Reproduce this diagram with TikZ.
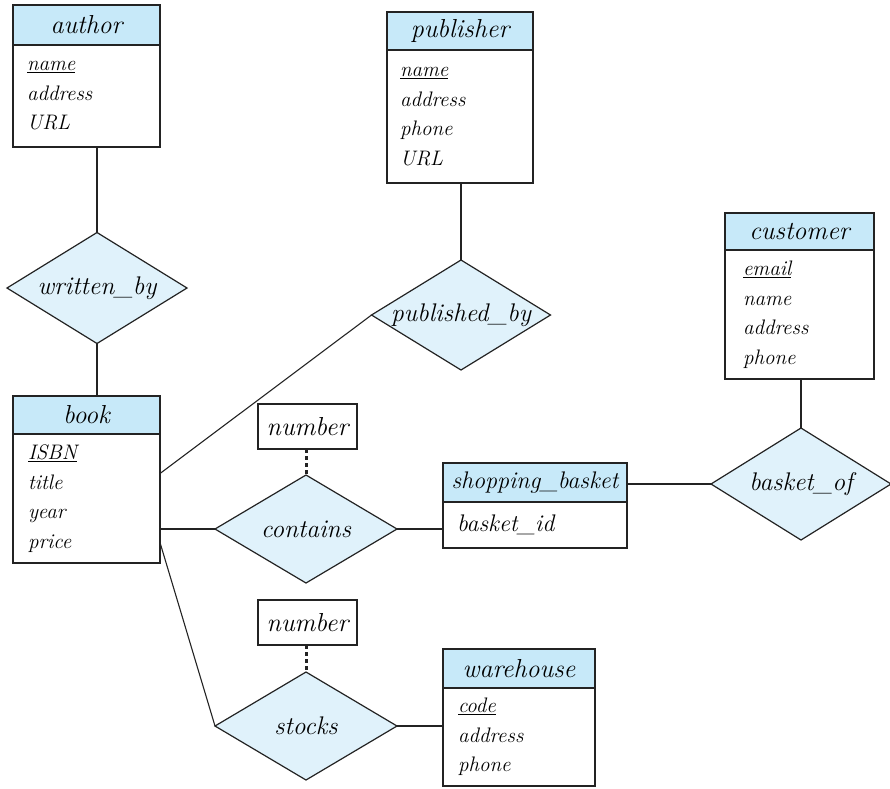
\documentclass[tikz,border=0pt]{standalone}
\usetikzlibrary{
    shapes.geometric,
    positioning,
    calc
}
\definecolor{headblue}{RGB}{199,233,249}
\definecolor{relblue}{RGB}{224,242,251}
\definecolor{linegray}{RGB}{35,35,35}
\tikzset{
    % Entity sets
    enthead/.style={
        rectangle,
        draw=linegray,
        line width=1.1pt,
        fill=headblue,
        outer sep=0pt,
        inner sep=0pt,
        font=\fontsize{26}{30}\selectfont\itshape
    },
    entbody/.style={
        rectangle,
        draw=linegray,
        line width=1.1pt,
        fill=white,
        outer sep=0pt,
        inner ysep=0pt,
        inner xsep=14pt,
        align=left,
        font=\fontsize{21}{29.5}\selectfont\itshape
    },
    % Relationship sets
    relation/.style={
        diamond,
        draw=linegray,
        line width=1.2pt,
        fill=relblue,
        aspect=1.64,
        inner xsep=-10pt,
        inner ysep=0pt,
        outer sep=0pt,
        minimum width=181pt,
        minimum height=109pt,
        font=\fontsize{25.5}{30}\selectfont\itshape
    },
    % Relationship attributes
    attrbox/.style={
        rectangle,
        draw=linegray,
        line width=1.1pt,
        fill=white,
        outer sep=0pt,
        inner sep=0pt,
        minimum width=99pt,
        minimum height=45pt,
        font=\fontsize{26}{30}\selectfont\itshape
    },
    % Connectors
    link/.style={
        draw=linegray,
        line width=1.1pt
    },
    dotlink/.style={
        draw=linegray,
        line width=3pt,
        dash pattern=on 4pt off 3pt
    }
}

\begin{document}
\begin{tikzpicture}[x=1pt, y=-1pt]

    \useasboundingbox (0,0) rectangle (890,788);

    % Entities
    \node[enthead, minimum width=147pt, minimum height=40pt] (author) at (86.5,25) {author};
    \node[entbody, text width=119pt, minimum height=102pt, below=0pt of author] (authorattr) {\underline{name}\\address\\URL};

    \node[enthead, minimum width=146pt, minimum height=38pt] (publisher) at (460,31) {publisher};
    \node[entbody, inner xsep=13pt, text width=120pt, minimum height=133pt, below=0pt of publisher] (publisherattr) {\underline{name}\\address\\phone\\URL};

    \node[enthead, minimum width=149pt, minimum height=37pt] (customer) at (799.5,231.5) {customer};
    \node[entbody, inner xsep=18pt, text width=113pt, minimum height=129pt, below=0pt of customer] (customerattr) {\underline{email}\\name\\address\\phone};

    \node[enthead, minimum width=147pt, minimum height=38pt] (book) at (86.5,415) {book};
    \node[entbody, inner xsep=15pt, text width=117pt, minimum height=129pt, below=0pt of book] (bookattr) {\underline{ISBN}\\title\\year\\price};

    \node[enthead, minimum width=184pt, minimum height=39pt, font=\fontsize{24}{28}\selectfont\itshape] (basket) at (535,482.5) {shopping\_basket};
    \node[entbody, text width=156pt, minimum height=46pt, font=\fontsize{24}{28}\selectfont\itshape, below=0pt of basket] (basketattr) {basket\_id};

    \node[enthead, minimum width=152pt, minimum height=39pt] (warehouse) at (519,668.5) {warehouse};
    \node[entbody, inner xsep=15pt, text width=122pt, minimum height=98pt, below=0pt of warehouse] (warehouseattr) {\underline{code}\\address\\phone};

    % Relationships
    \node[relation, minimum width=180pt, minimum height=111pt] (writtenby) at (97,288) {written\_by};
    \node[relation, minimum width=179pt, minimum height=110pt] (publishedby) at (461,315) {published\_by};
    \node[relation, minimum width=180pt, minimum height=112pt] (basketof) at (801,484) {basket\_of};
    \node[relation, minimum width=182pt, minimum height=108pt] (contains) at (306,529) {contains};
    \node[relation, minimum width=182pt, minimum height=108pt] (stocks) at (306,726) {stocks};

    % Attributes of relationships
    \node[attrbox] (number1) at (307.5,426.5) {number};
    \node[attrbox] (number2) at (307.5,622.5) {number};

    % Connectors
    \draw[link] (authorattr.south -| writtenby.north) -- (writtenby.north);
    \draw[link] (writtenby.south) -- (book.north -| writtenby.south);
    \draw[link] (publisherattr.south -| publishedby.north) -- (publishedby.north);
    \draw[link] ([yshift=25pt]bookattr.east) -- (publishedby.west);
    \draw[link] (bookattr.east |- contains.west) -- (contains.west);
    \draw[link] (contains.east) -- (basketattr.west |- contains.east);
    \draw[link] (basket.east |- basketof.west) -- (basketof.west);
    \draw[link] (customerattr.south -| basketof.north) -- (basketof.north);
    \draw[link] ([yshift=-44pt]bookattr.east) -- (stocks.west);
    \draw[link] (stocks.east) -- (warehouseattr.west |- stocks.east);
    \draw[dotlink] (number1.south -| contains.north) -- (contains.north);
    \draw[dotlink] (number2.south -| stocks.north) -- (stocks.north);

\end{tikzpicture}
\end{document}
